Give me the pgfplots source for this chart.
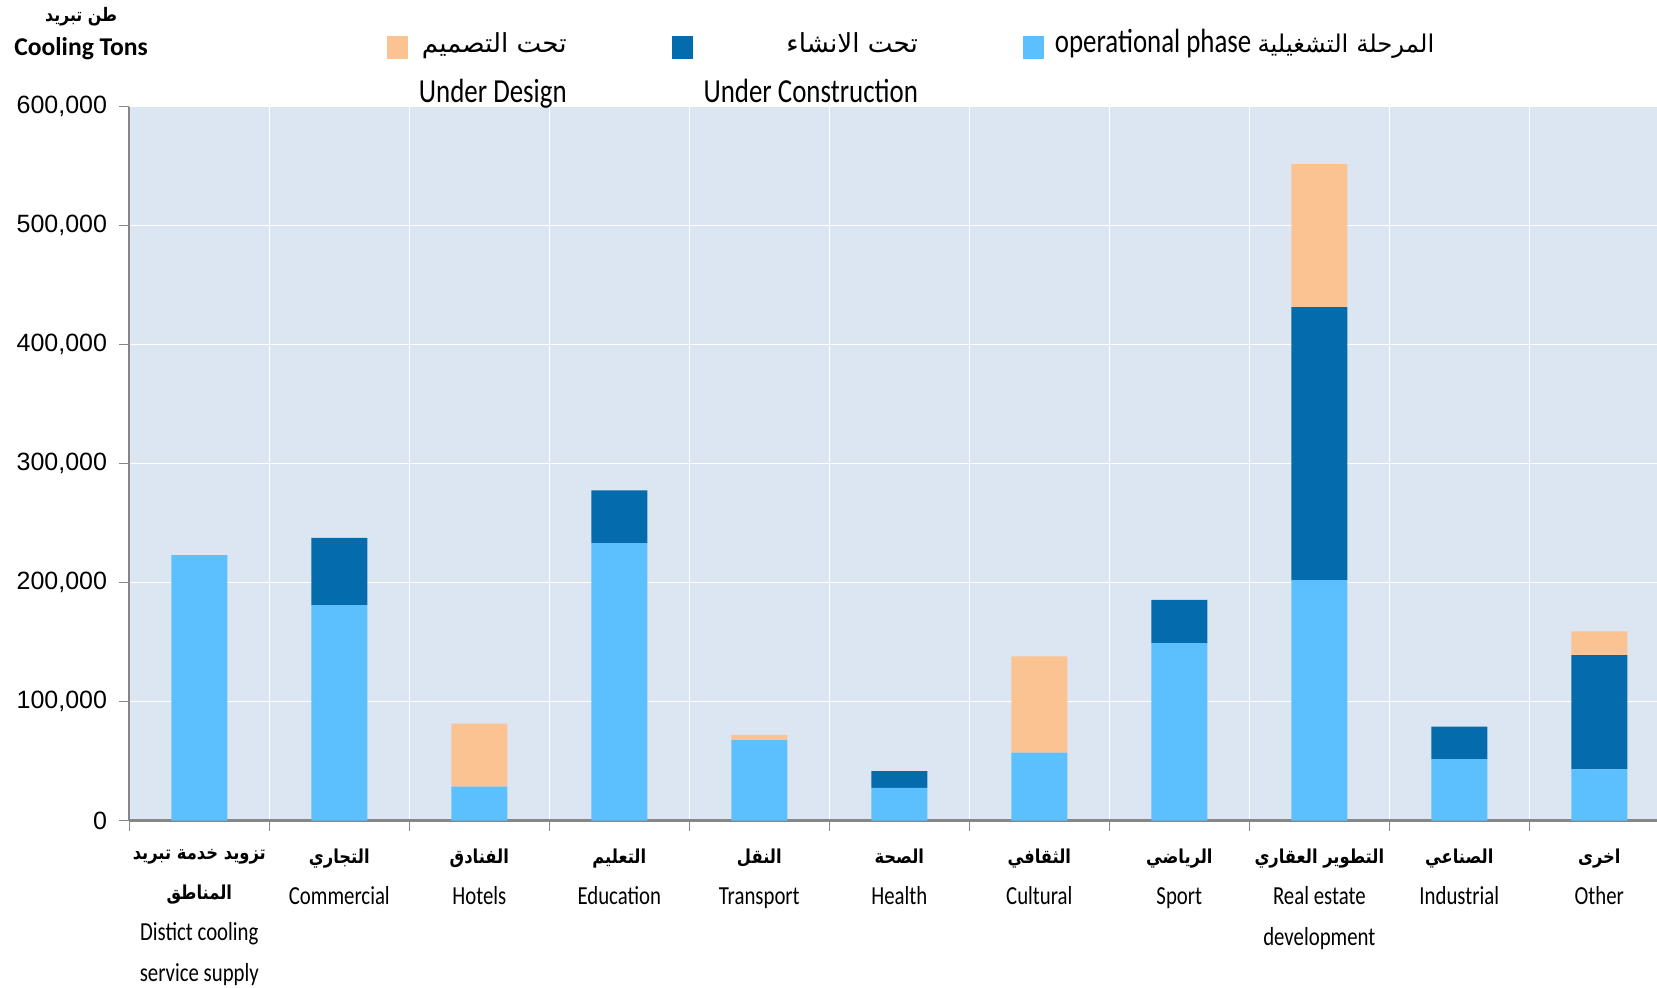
\documentclass[border=0pt]{standalone}
\usepackage{fontspec}
\usepackage{pgfplots}
\usepackage{pgfplotstable}
\pgfplotsset{compat=1.18}
\TeXXeTstate=1
\setmainfont{Carlito}
\newfontfamily\latcond[FakeStretch=0.8]{Carlito}
\newfontfamily\arabicfont[Script=Arabic]{DejaVu Sans}
\newfontfamily\arabiccond[Script=Arabic, FakeStretch=0.85]{DejaVu Sans}
\newfontfamily\arialfont{Liberation Sans}
\newcommand\arb{\arabiccond\bfseries\fontsize{9.6}{20}\selectfont}
\newcommand\arl{\arabicfont\fontsize{13.1}{25}\selectfont}
\newcommand\arls{\arabicfont\fontsize{12.2}{25}\selectfont}
\newcommand\art{\arabiccond\bfseries\fontsize{9.3}{17}\selectfont}
\definecolor{opblue}{RGB}{92,192,255}
\definecolor{ucblue}{RGB}{4,107,173}
\definecolor{udorange}{RGB}{251,194,146}
\definecolor{bgblue}{RGB}{220,230,242}
\definecolor{axgray}{RGB}{134,134,134}

\pgfplotstableread{
x op uc ud
0 223000 0 0
1 181000 56500 0
2 28500 0 53000
3 233000 44500 0
4 67500 0 4500
5 27500 14000 0
6 57000 0 81000
7 149000 36500 0
8 202000 229500 120000
9 51500 27500 0
10 43000 96000 20000
}\datatable

\begin{document}
\begin{tikzpicture}
\begin{axis}[
  name=main,
  anchor=south west,
  width=770pt, height=357pt, scale only axis,
  xmin=-0.5, xmax=10.5, ymin=0, ymax=600000,
  ybar stacked, bar width=0.4,
  axis background/.style={fill=bgblue},
  axis x line*=bottom, axis y line*=left,
  axis line style={axgray, line width=1.2pt, -},
  xtick={-0.5,0.5,...,10.5},
  x tick label as interval,
  xticklabels={
    {{\arb\beginR تزويد خدمة تبريد\endR}\\{\arb\beginR المناطق\endR}\\Distict cooling\\service supply},
    {{\arb\beginR التجاري\endR}\\Commercial},
    {{\arb\beginR الفنادق\endR}\\Hotels},
    {{\arb\beginR التعليم\endR}\\Education},
    {{\arb\beginR النقل\endR}\\Transport},
    {{\arb\beginR الصحة\endR}\\Health},
    {{\arb\beginR الثقافي\endR}\\Cultural},
    {{\arb\beginR الرياضي\endR}\\Sport},
    {{\arb\beginR التطوير العقاري\endR}\\Real estate\\development},
    {{\arb\beginR الصناعي\endR}\\Industrial},
    {{\arb\beginR اخرى\endR}\\Other}},
  xticklabel style={align=center, font=\latcond\fontsize{13}{20.4}\selectfont, inner sep=0pt, yshift=-9pt},
  ytick={0,100000,...,600000},
  scaled y ticks=false,
  yticklabel={\pgfmathprintnumber[fixed, precision=0, 1000 sep={,}, assume math mode=true]{\tick}},
  yticklabel style={font=\arialfont\fontsize{12.5}{15}\selectfont, xshift=-2.6pt},
  grid=major, grid style={white, line width=0.7pt},
  tick align=outside,
  major tick length=5pt,
  tick style={axgray, line width=0.7pt},
  ylabel={{\art\beginR طن تبريد\endR}\\\textbf{Cooling Tons}},
  every axis y label/.style={at={(rel axis cs:-0.0313,1.1015)}, anchor=center, align=center, font=\fontsize{12.8}{17}\selectfont},
  legend columns=3,
  reverse legend,
  legend style={at={(rel axis cs:0.1673,1.108)}, anchor=north west, draw=none, fill=none,
    inner sep=0pt, outer sep=0pt,
    font=\latcond\fontsize{16.8}{25}\selectfont,
    cells={anchor=base east},
    nodes={align=right, inner sep=0pt},
    /tikz/every odd column/.append style={column sep=5.5pt},
    /tikz/every even column/.append style={column sep=52.5pt}},
]
\addplot+[fill=opblue, draw=none, legend image code/.code={\fill[opblue] (0pt,22pt) rectangle (10.5pt,33.5pt);}] table[x=x, y=op] {\datatable};
\addlegendentry{operational phase {\arls\beginR المرحلة التشغيلية\endR}\\\mbox{}}
\addplot+[fill=ucblue, draw=none, legend image code/.code={\fill[ucblue] (0pt,22pt) rectangle (10.5pt,33.5pt);}] table[x=x, y=uc] {\datatable};
\addlegendentry{{\arl\beginR تحت الانشاء\endR}\\Under Construction}
\addplot+[fill=udorange, draw=none, legend image code/.code={\fill[udorange] (0pt,22pt) rectangle (10.5pt,33.5pt);}] table[x=x, y=ud] {\datatable};
\addlegendentry{{\arl\beginR تحت التصميم\endR}\\Under Design}
\end{axis}
\pgfresetboundingbox
\path (main.south west) ++(-64.65pt,-83.25pt) rectangle ++(828.5pt,493.5pt);
\end{tikzpicture}
\end{document}
